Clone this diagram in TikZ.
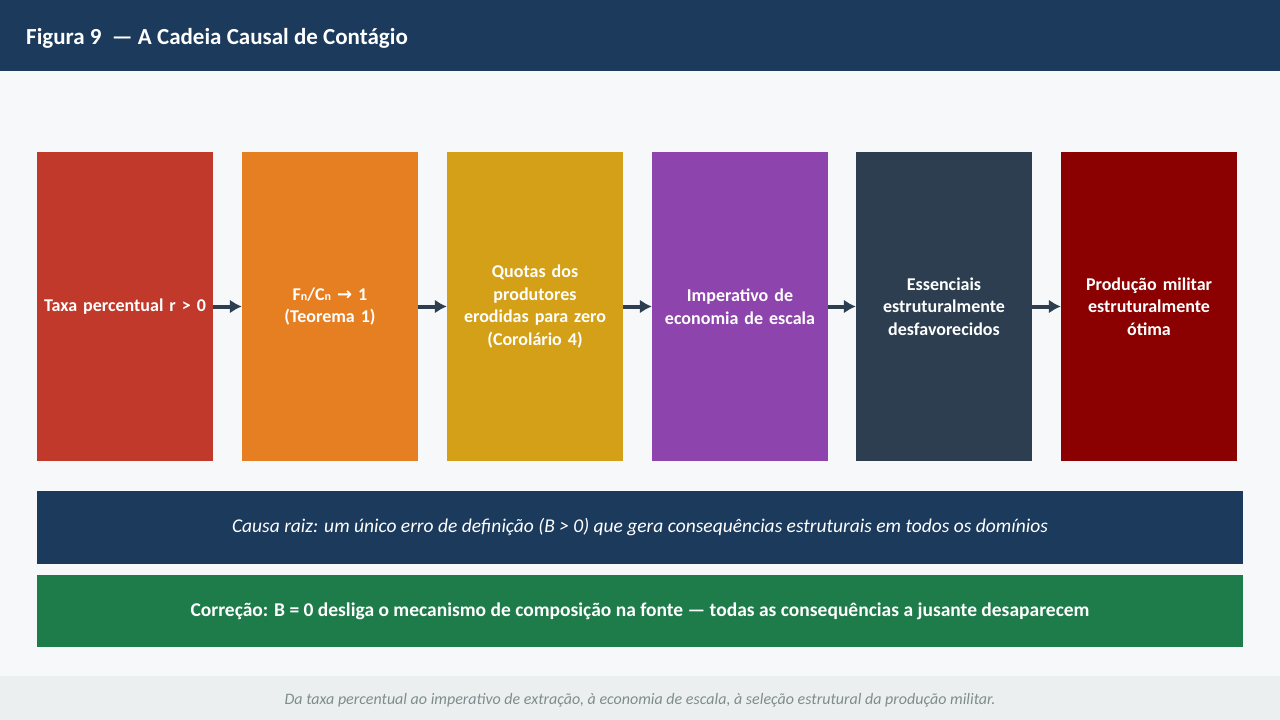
\documentclass[tikz,border=0pt]{standalone}
\usepackage{fontspec}
\setmainfont{Carlito}
\newfontfamily\symfont{DejaVu Sans}
\usetikzlibrary{arrows.meta, positioning}
\definecolor{navy}{HTML}{1B3A5C}
\definecolor{paper}{HTML}{F6F8FA}
\definecolor{footband}{HTML}{ECEFF0}
\definecolor{footgray}{HTML}{7F8C8D}
\definecolor{slate}{HTML}{2C3E50}
\definecolor{cred}{HTML}{C0392B}
\definecolor{corange}{HTML}{E67E22}
\definecolor{cgold}{HTML}{D4A017}
\definecolor{cpurple}{HTML}{8E44AD}
\definecolor{cdark}{HTML}{8B0000}
\definecolor{cgreen}{HTML}{1E7B4A}
\tikzstyle{stage} = [rectangle, minimum width=176pt, minimum height=309pt, text width=172pt, align=center, text=white, font=\fontsize{18}{22.7}\selectfont\bfseries, inner sep=0pt]
\tikzstyle{band} = [rectangle, minimum width=1206pt, text=white, inner sep=0pt]
\newcommand{\sub}[1]{\raisebox{-0.1ex}{\fontsize{12}{12}\selectfont #1}}

\begin{document}
\begin{tikzpicture}[x=1pt,y=-1pt,>={Latex[length=12pt,width=14pt]}]
  \useasboundingbox (0,0) rectangle (1280,720);
  \fill [paper] (0,0) rectangle (1280,720);
  \fill [navy] (0,0) rectangle (1280,71);
  \fill [footband] (0,676) rectangle (1280,720);
  \node [anchor=west, text=white, font=\fontsize{23}{26}\selectfont\bfseries, inner sep=0pt] (title) at (26,38) {Figura 9\ \ — A Cadeia Causal de Contágio};
  % chain of causes
  \node [stage, fill=cred] (rate) at (125,306.5) {Taxa percentual r > 0};
  \node [stage, fill=corange, right of=rate, node distance=205pt] (ratio) {F\sub{n}/C\sub{n} {\symfont →} 1\\(Teorema 1)};
  \node [stage, fill=cgold, right of=ratio, node distance=205pt] (quota) {Quotas dos\\produtores\\erodidas para zero\\(Corolário 4)};
  \node [stage, fill=cpurple, right of=quota, node distance=205pt] (scale) {Imperativo de\\economia de escala};
  \node [stage, fill=slate, right of=scale, node distance=204pt] (essent) {Essenciais\\estruturalmente\\desfavorecidos};
  \node [stage, fill=cdark, right of=essent, node distance=205pt] (milit) {Produção militar\\estruturalmente\\ótima};
  \draw [->, slate, line width=4pt] (rate) -- (ratio);
  \draw [->, slate, line width=4pt] (ratio) -- (quota);
  \draw [->, slate, line width=4pt] (quota) -- (scale);
  \draw [->, slate, line width=4pt] (scale) -- (essent);
  \draw [->, slate, line width=4pt] (essent) -- (milit);
  % root cause and correction
  \node [band, fill=navy, minimum height=73pt, font=\fontsize{19.5}{22}\selectfont\itshape] (root) at (640,527.5) {Causa raiz: um único erro de definição (B > 0) que gera consequências estruturais em todos os domínios};
  \node [band, fill=cgreen, minimum height=72pt, font=\fontsize{19.5}{22}\selectfont\bfseries] (fix) at (640,611) {Correção: B = 0 desliga o mecanismo de composição na fonte — todas as consequências a jusante desaparecem};
  \node [text=footgray, font=\fontsize{16}{18}\selectfont\itshape] (note) at (640,700) {Da taxa percentual ao imperativo de extração, à economia de escala, à seleção estrutural da produção militar.};
\end{tikzpicture}
\end{document}
